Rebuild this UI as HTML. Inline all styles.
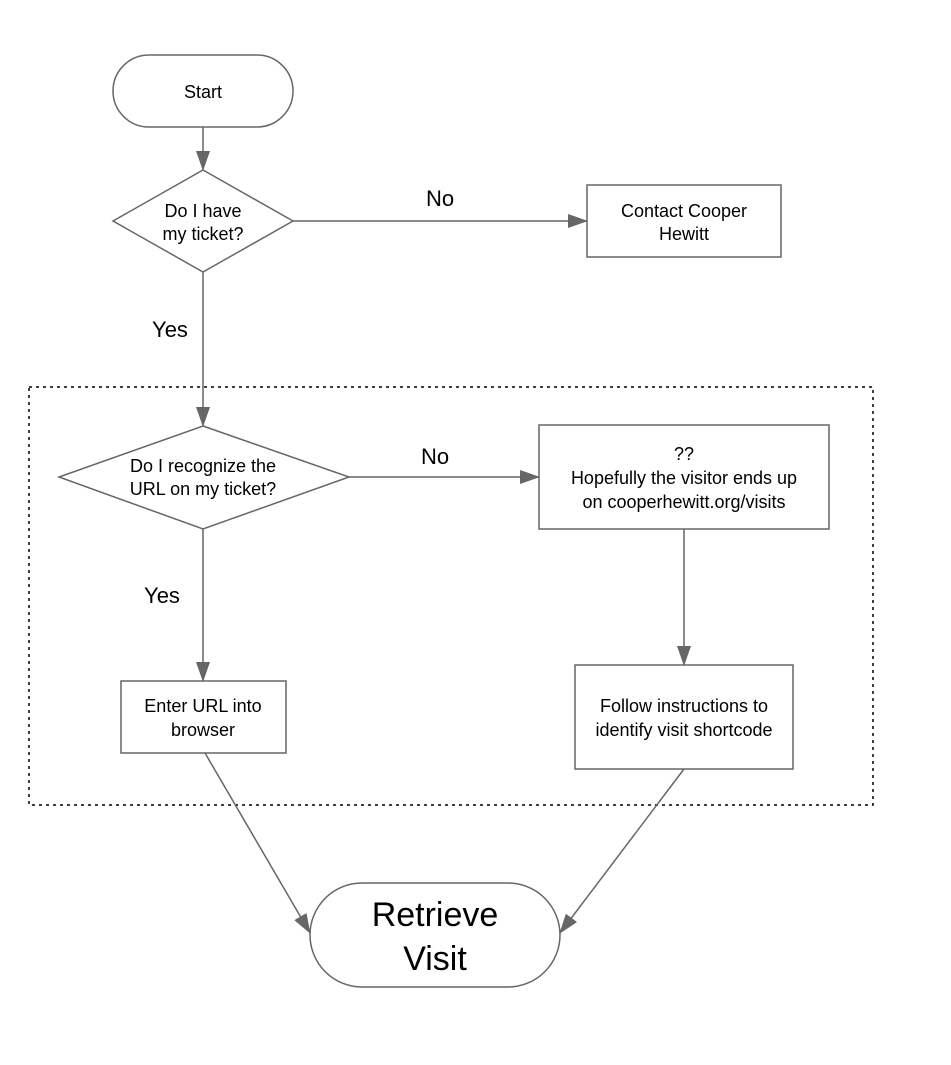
<!DOCTYPE html>
<html><head><style>body{margin:0;background:#fff}</style></head><body>
<svg width="951" height="1060" xmlns="http://www.w3.org/2000/svg" font-family="Liberation Sans, sans-serif">
<defs><marker id="a" markerWidth="20" markerHeight="14" refX="19" refY="7" orient="auto" markerUnits="userSpaceOnUse"><path d="M0,0 L20,7 L0,14 z" fill="#666"/></marker></defs>
<g fill="#fff" stroke="#666" stroke-width="1.5">
<rect x="29" y="387" width="844" height="418" fill="none" stroke="#000" stroke-width="1.5" stroke-dasharray="3,4"/>
<rect x="113" y="55" width="180" height="72" rx="36"/>
<polygon points="203,170 293,221 203,272 113,221"/>
<rect x="587" y="185" width="194" height="72"/>
<polygon points="203,426 349,477 203,529 59,477"/>
<rect x="539" y="425" width="290" height="104"/>
<rect x="121" y="681" width="165" height="72"/>
<rect x="575" y="665" width="218" height="104"/>
<rect x="310" y="883" width="250" height="104" rx="52"/>
</g>
<g stroke="#666" stroke-width="1.5" fill="none" marker-end="url(#a)">
<line x1="203" y1="127" x2="203" y2="170"/>
<line x1="293" y1="221" x2="587" y2="221"/>
<line x1="203" y1="272" x2="203" y2="426"/>
<line x1="349" y1="477" x2="539" y2="477"/>
<line x1="684" y1="529" x2="684" y2="665"/>
<line x1="203" y1="529" x2="203" y2="681"/>
<line x1="205" y1="753" x2="310" y2="933"/>
<line x1="684" y1="769" x2="560" y2="933"/>
</g>
<g font-size="18" text-anchor="middle" fill="#000">
<text x="203" y="98">Start</text>
<text x="203" y="217">Do I have</text><text x="203" y="240">my ticket?</text>
<text x="684" y="217">Contact Cooper</text><text x="684" y="240">Hewitt</text>
<text x="203" y="472">Do I recognize the</text><text x="203" y="495">URL on my ticket?</text>
<text x="684" y="460">??</text><text x="684" y="484">Hopefully the visitor ends up</text><text x="684" y="508">on cooperhewitt.org/visits</text>
<text x="203" y="712">Enter URL into</text><text x="203" y="736">browser</text>
<text x="684" y="712">Follow instructions to</text><text x="684" y="736">identify visit shortcode</text>
<text x="440" y="206" font-size="22">No</text>
<text x="170" y="337" font-size="22">Yes</text>
<text x="435" y="464" font-size="22">No</text>
<text x="162" y="603" font-size="22">Yes</text>
<text x="435" y="926" font-size="34">Retrieve</text>
<text x="435" y="970" font-size="34">Visit</text>
</g>
</svg>
</body></html>
